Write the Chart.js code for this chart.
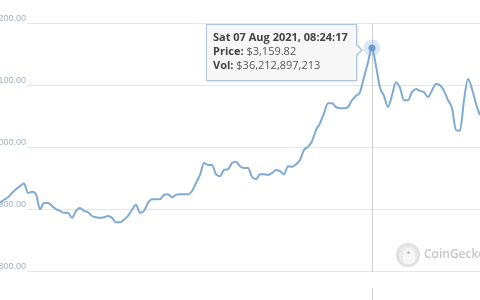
<!DOCTYPE html>
<html>
<head>
<meta charset="utf-8">
<script src="https://cdn.jsdelivr.net/npm/chart.js@4/dist/chart.umd.min.js"></script>
<style>
  html, body { margin: 0; padding: 0; background: #fff; }
  #wrap { position: relative; width: 480px; height: 300px; overflow: hidden; background: #fff; }
  #c { position: absolute; left: 0; top: 0; }
  #tip {
    position: absolute; box-sizing: border-box; white-space: nowrap;
    font-family: "Open Sans", sans-serif; font-size: 11px; line-height: 14px; color: #4a4a4a;
    background: rgba(247,247,247,0.96); border: 1px solid #aec4da;
    padding: 5px 8px 8px 6px; box-shadow: 1px 1px 2px rgba(0,0,0,0.12);
  }
  #tip b { font-weight: 700; color: #444; }
  #tip span { color: #555; }
  #tip::before, #tip::after {
    content: ""; position: absolute; top: 19px; width: 0; height: 0;
    border-top: 6px solid transparent; border-bottom: 6px solid transparent;
  }
  #tip::before { right: -7px; border-left: 6px solid #aec4da; }
  #tip::after  { right: -5px; border-left: 5px solid #f7f7f7; top: 20px; border-top-width: 5px; border-bottom-width: 5px; }
  #logo {
    position: absolute; left: 396px; top: 243px; width: 24px; height: 24px; border-radius: 50%;
    background: #e9e9e9; box-sizing: border-box; border: 2px solid #dedede; overflow: hidden;
  }
  #logo .head { position: absolute; left: 5px; top: 3px; width: 12px; height: 16px; border-radius: 50% 60% 40% 40%; background: #f6f6f6; }
  #logo .eye { position: absolute; left: 9px; top: 6px; width: 3px; height: 3px; border-radius: 50%; background: #bdbdbd; }
  #wmtext {
    position: absolute; left: 424px; top: 245px; font-family: "Open Sans", sans-serif; font-weight: 600;
    font-size: 12px; color: #c6c6c6; white-space: nowrap;
  }
</style>
</head>
<body>
<div id="wrap">
  <canvas id="c" width="480" height="300"></canvas>
  <div id="tip">
    <div><b id="tt"></b></div>
    <div><b>Price:</b> <span id="pv"></span></div>
    <div><b>Vol:</b> <span id="vv"></span></div>
  </div>
  <div id="logo"><div class="head"></div><div class="eye"></div></div>
  <div id="wmtext">CoinGecko</div>
</div>
<script>
// ---- data ----
const yTicks = [2800, 2900, 3000, 3100, 3200];
const prices = [
  2911, 2916, 2920, 2927, 2933, 2938, 2942, 2927, 2929, 2925,
  2901, 2911, 2911, 2906, 2901, 2898, 2895, 2895, 2887, 2898,
  2903, 2898, 2896, 2890, 2888, 2887, 2888, 2890, 2887, 2880,
  2880, 2884, 2890, 2900, 2908, 2895, 2898, 2911, 2917, 2917,
  2917, 2924, 2925, 2920, 2924, 2925, 2925, 2925, 2930, 2943,
  2956, 2975, 2972, 2972, 2957, 2954, 2964, 2965, 2975, 2977,
  2970, 2967, 2967, 2953, 2949, 2957, 2957, 2956, 2959, 2964,
  2962, 2957, 2970, 2969, 2973, 2980, 2996, 3001, 3010, 3028,
  3039, 3055, 3071, 3071, 3065, 3063, 3063, 3065, 3076, 3083,
  3089, 3113, 3137, 3159.82, 3131, 3096, 3083, 3065, 3084, 3105,
  3096, 3076, 3076, 3089, 3094, 3091, 3089, 3081, 3092, 3102,
  3100, 3091, 3076, 3063, 3028, 3027, 3076, 3110, 3094, 3070,
  3052
];
const samples = prices.map((_, i) => i);
const peakIndex = 93;
const peakTime = "Sat 07 Aug 2021, 08:24:17";
const peakVolume = 36212897213;

const fmtUsd = (v, d) => '$' + v.toLocaleString('en-US', { minimumFractionDigits: d, maximumFractionDigits: d });

const overlay = {
  id: 'overlay',
  beforeDatasetsDraw(chart) {
    const ys = chart.scales.y;
    const ctx = chart.ctx;
    // y-axis labels (sit just above their grid line, left of where the line starts)
    ctx.save();
    ctx.font = '9px "Liberation Sans", Arial, sans-serif';
    ctx.textAlign = 'right';
    ctx.textBaseline = 'middle';
    ys.ticks.forEach(t => {
      const y = ys.getPixelForValue(t.value);
      ctx.fillStyle = '#ffffff';
      ctx.fillRect(0, y - 3, 27, 5);
      ctx.fillStyle = '#a2b2c3';
      ctx.fillText(fmtUsd(t.value, 2), 26, y - 5);
    });
    ctx.restore();

    const el = chart.getDatasetMeta(0).data[peakIndex];
    const x = Math.round(el.x) + 0.5;
    const yTop = ys.getPixelForValue(yTicks[yTicks.length - 1]);
    const yBot = ys.getPixelForValue(yTicks[0]);
    ctx.save();
    ctx.strokeStyle = '#cfcfcf';
    ctx.lineWidth = 1;
    ctx.beginPath();
    ctx.moveTo(x, yTop); ctx.lineTo(x, yBot);
    ctx.moveTo(x, yBot + 16); ctx.lineTo(x, chart.height);
    ctx.stroke();
    ctx.fillStyle = 'rgba(124,172,226,0.28)';
    ctx.beginPath();
    ctx.arc(el.x, el.y, 8.5, 0, Math.PI * 2);
    ctx.fill();
    ctx.restore();
  },
  afterDraw(chart) {
    const el = chart.getDatasetMeta(0).data[peakIndex];
    const tip = document.getElementById('tip');
    document.getElementById('tt').textContent = peakTime;
    document.getElementById('pv').textContent = fmtUsd(prices[peakIndex], 2);
    document.getElementById('vv').textContent = fmtUsd(peakVolume, 0);
    const w = tip.offsetWidth;
    tip.style.left = Math.round(el.x - 15 - w) + 'px';
    tip.style.top = Math.round(el.y - 24) + 'px';
  }
};

new Chart(document.getElementById('c'), {
  type: 'line',
  data: {
    labels: samples,
    datasets: [{
      data: prices,
      borderColor: '#7eaad4',
      borderWidth: 2,
      cubicInterpolationMode: 'monotone',
      fill: false,
      pointRadius: ctx => ctx.dataIndex === peakIndex ? 3.5 : 0,
      pointBackgroundColor: '#6b9bd2',
      pointBorderWidth: 0
    }]
  },
  options: {
    responsive: false,
    animation: false,
    events: [],
    layout: { padding: 0 },
    plugins: { legend: { display: false }, tooltip: { enabled: false } },
    scales: {
      x: { display: false },
      y: {
        position: 'left',
        min: 2755,
        max: 3237,
        border: { display: false },
        grid: { color: '#e6e6e6', lineWidth: 1, drawTicks: false },
        afterBuildTicks: s => { s.ticks = yTicks.map(v => ({ value: v })); },
        ticks: { display: false }
      }
    }
  },
  plugins: [overlay]
});
</script>
</body>
</html>
